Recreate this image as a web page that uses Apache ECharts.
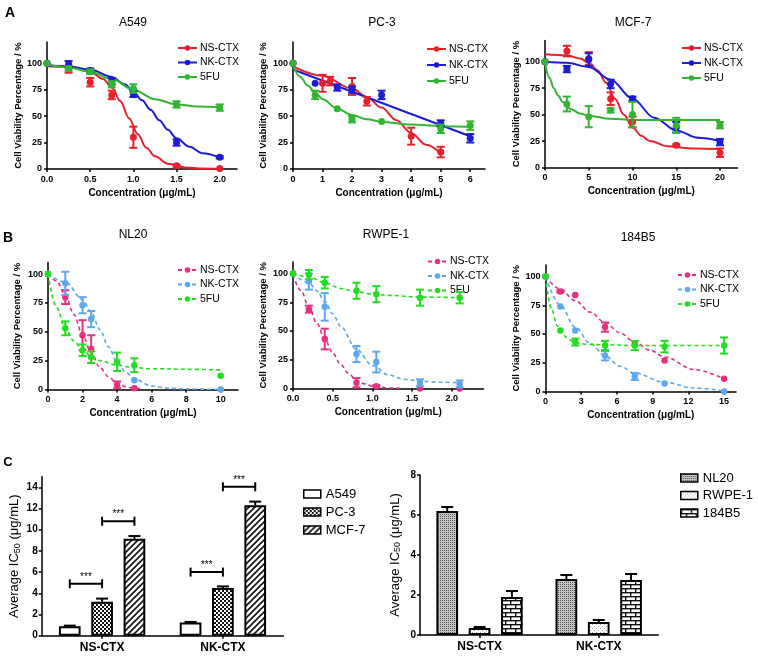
<!DOCTYPE html>
<html><head><meta charset="utf-8">
<script src="https://cdn.jsdelivr.net/npm/echarts@6/dist/echarts.min.js"></script>
<style>html,body{margin:0;padding:0;background:#fff}#c{width:758px;height:661px}</style>
</head><body><div id="c"></div>
<script>
const FONT = '"Liberation Sans", Arial, Helvetica, sans-serif';

// ===== Panel A: cancer cell lines (points, error, fitted curves) =====
const a549X = [0, 0.25, 0.5, 0.75, 1.0, 1.5, 2.0];
const a549NS = [100, 94, 82, 70, 30, 3, 0.5];
const a549NSErr = [0, 3, 4, 4, 10, 1, 0];
const a549NK = [100, 99, 93, 83, 71, 25, 11];
const a549NKErr = [0, 3, 2, 3, 3, 3, 1];
const a549FU = [100, 95, 92, 80, 76, 61, 58];
const a549FUErr = [0, 2, 2, 3, 4, 3, 3];
const a549NSFitX = [0, 0.25, 0.5, 0.65, 0.75, 0.85, 0.95, 1.05, 1.15, 1.25, 1.4, 1.6, 1.8, 2.0];
const a549NSFitY = [97, 96.5, 92, 85, 77, 64, 48, 33, 20, 12, 5, 1.5, 0.5, 0.2];
const a549NKFitX = [0, 0.25, 0.5, 0.75, 0.9, 1.0, 1.1, 1.2, 1.3, 1.4, 1.5, 1.65, 1.8, 2.0];
const a549NKFitY = [98, 97, 94, 87, 80, 73, 65, 56, 46, 37, 29, 21, 15, 11];
const a549FUFitX = [0, 0.25, 0.5, 0.75, 1.0, 1.25, 1.5, 1.75, 2.0];
const a549FUFitY = [99, 96, 92, 85, 75, 66, 61, 59, 58];

const pc3NSX = [0, 1, 1.25, 2, 2.5, 4, 5];
const pc3NS = [100, 81, 83, 78, 64, 31, 16];
const pc3NSErr = [0, 8, 4, 8, 4, 8, 5];
const pc3NKX = [0, 0.75, 1.5, 2, 3, 5, 6];
const pc3NK = [100, 81, 77, 75, 70, 43, 29];
const pc3NKErr = [0, 0, 3, 3, 4, 3, 4];
const pc3FUX = [0, 0.75, 1.5, 2, 3, 5, 6];
const pc3FU = [100, 70, 57, 47, 45, 38, 41];
const pc3FUErr = [0, 4, 0, 3, 0, 4, 4];
const pc3NSFitX = [0, 1, 2, 2.5, 3, 3.5, 4, 4.5, 5];
const pc3NSFitY = [97, 88, 76, 68, 58, 46, 34, 23, 15];
const pc3NKFitX = [0, 6];
const pc3NKFitY = [94, 31];
const pc3FUFitX = [0, 0.25, 0.5, 0.75, 1, 1.5, 2, 2.5, 3, 4, 5, 6];
const pc3FUFitY = [98, 87, 79, 72, 66, 57, 51, 47, 44.5, 42, 40.5, 40];

const mcf7X = [0, 2.5, 5, 7.5, 10, 15, 20];
const mcf7NS = [100, 110, 103, 65, 43, 21, 14];
const mcf7NSErr = [0, 5, 6, 6, 5, 1, 4];
const mcf7NK = [100, 93, 102, 79, 65, 38, 24];
const mcf7NKErr = [0, 3, 6, 4, 2, 5, 3];
const mcf7FU = [100, 60, 48, 54, 50, 40, 40];
const mcf7FUErr = [0, 7, 10, 2, 12, 7, 3];
const mcf7NSFitX = [0, 2.5, 4, 5, 6, 7, 8, 9, 10, 11, 12, 14, 17, 20];
const mcf7NSFitY = [107, 106, 103, 99, 92, 80, 65, 50, 38, 30, 25, 20, 18, 17.5];
const mcf7NKFitX = [0, 2.5, 5, 7.5, 10, 12.5, 15, 17.5, 20];
const mcf7NKFitY = [100, 99, 95, 83, 65, 47, 35, 28, 25];
const mcf7FUFitX = [0, 0.5, 1, 1.5, 2, 3, 4, 5, 7.5, 10, 15, 20];
const mcf7FUFitY = [99, 85, 75, 68, 62, 55, 51, 49, 46, 45, 45, 45];

// ===== Panel B: normal cell lines =====
const nl20NSX = [0, 1, 2, 2.5, 4, 5];
const nl20NS = [100, 80, 47, 35, 4, 1];
const nl20NSErr = [0, 6, 13, 12, 3, 0];
const nl20NKX = [0, 1, 2, 2.5, 5, 10];
const nl20NK = [100, 92, 73, 61, 8, 0];
const nl20NKErr = [0, 10, 7, 7, 0, 0];
const nl20FUX = [0, 1, 2, 2.5, 4, 5, 10];
const nl20FU = [100, 53, 34, 28, 24, 21, 12];
const nl20FUErr = [0, 6, 5, 5, 8, 6, 0];
const nl20NSFitX = [0, 0.5, 1, 1.5, 2, 2.5, 3, 3.5, 4, 4.5, 5, 5.5];
const nl20NSFitY = [100, 94, 82, 65, 47, 32, 19, 11, 5, 2.5, 1, 0.5];
const nl20NKFitX = [0, 1, 2, 2.5, 3, 3.5, 4, 4.5, 5, 6, 7, 8, 10];
const nl20NKFitY = [100, 93, 78, 67, 52, 37, 24, 15, 9, 3, 1, 0.5, 0];
const nl20FUFitX = [0, 0.5, 1, 1.5, 2, 2.5, 3, 4, 5, 6, 8, 10];
const nl20FUFitY = [100, 71, 53, 42, 34, 29, 25, 21, 19, 18, 17.5, 17];

const rwpeX = [0, 0.2, 0.4, 0.8, 1.05, 1.6, 2.1];
const rwpeNS = [100, 69, 43, 5, 2, 0, 0];
const rwpeNSErr = [0, 3, 9, 4, 1, 0, 0];
const rwpeNK = [100, 93, 71, 30, 23, 5, 4];
const rwpeNKErr = [0, 7, 12, 7, 9, 3, 3];
const rwpeFU = [100, 99, 92, 85, 82, 79, 79];
const rwpeFUErr = [0, 4, 5, 7, 7, 7, 5];
const rwpeNSFitX = [0, 0.1, 0.2, 0.3, 0.4, 0.5, 0.6, 0.7, 0.8, 0.9, 1.0, 1.2, 1.4];
const rwpeNSFitY = [99, 85, 71, 57, 43, 31, 21, 13, 7, 4, 2, 0.5, 0];
const rwpeNKFitX = [0, 0.2, 0.3, 0.4, 0.5, 0.6, 0.8, 1.0, 1.2, 1.4, 1.6, 1.8, 2.1];
const rwpeNKFitY = [100, 92, 85, 76, 65, 54, 34, 20, 12, 8, 6.5, 5.5, 5];
const rwpeFUFitX = [0, 0.2, 0.4, 0.6, 0.8, 1.0, 1.2, 1.6, 2.1];
const rwpeFUFitY = [100, 97, 92, 87, 84, 82, 81, 79.5, 79];

const b184X = [0, 1.25, 2.5, 5, 7.5, 10, 15];
const b184NS = [100, 87, 84, 56, 41, 27, 11];
const b184NSErr = [0, 1, 0, 4, 0, 0, 0];
const b184NK = [100, 74, 53, 31, 13, 7, 0];
const b184NKErr = [0, 0, 0, 4, 3, 0, 0];
const b184FU = [100, 53, 43, 40, 40, 39, 40];
const b184FUErr = [0, 0, 3, 4, 4, 5, 7];
const b184NSFitX = [0, 1.25, 2.5, 3.75, 5, 6.25, 7.5, 8.75, 10, 12.5, 15];
const b184NSFitY = [100, 89, 79, 69, 60, 51, 43, 36, 30, 19, 11];
const b184NKFitX = [0, 1.25, 2.5, 3.75, 5, 6.25, 7.5, 10, 12.5, 15];
const b184NKFitY = [100, 75, 56, 42, 31, 22, 16, 8, 3, 0.5];
const b184FUFitX = [0, 0.5, 1, 1.5, 2, 2.5, 3.5, 5, 7.5, 10, 15];
const b184FUFitY = [100, 72, 57, 49, 45, 42.5, 41, 40.5, 40, 40, 40];

// ===== Tick labels =====
const viabilityTicks = [0, 25, 50, 75, 100];
const a549XTicks = [0, 0.5, 1.0, 1.5, 2.0];
const pc3XTicks = [0, 1, 2, 3, 4, 5, 6];
const mcf7XTicks = [0, 5, 10, 15, 20];
const nl20XTicks = [0, 2, 4, 6, 8, 10];
const rwpeXTicks = [0, 0.5, 1.0, 1.5, 2.0];
const b184XTicks = [0, 3, 6, 9, 12, 15];

// ===== Panel C: IC50 bars =====
const barCats = ['NS-CTX', 'NK-CTX'];
const icA549 = [0.9, 1.25];   const icA549Err = [0.05, 0.05];
const icPC3 = [3.2, 4.5];     const icPC3Err = [0.3, 0.15];
const icMCF7 = [9.15, 12.3];  const icMCF7Err = [0.25, 0.35];
const icNL20 = [6.2, 2.8];    const icNL20Err = [0.2, 0.2];
const icRWPE = [0.35, 0.65];  const icRWPEErr = [0.05, 0.1];
const ic184B5 = [1.9, 2.75];  const ic184B5Err = [0.3, 0.3];
const ic50CancerTicks = [0, 2, 4, 6, 8, 10, 12, 14];
const ic50NormalTicks = [0, 2, 4, 6, 8];
// significance: [category, fromBar, toBar, bracket height]
const sigCancer = [[0, 0, 1, 4.9], [0, 1, 2, 10.8], [1, 0, 1, 6.0], [1, 1, 2, 14.05]];

// ===== Chart building =====
const option = {
  animation: false, backgroundColor: '#ffffff',
  textStyle: { fontFamily: FONT },
  grid: [], xAxis: [], yAxis: [], series: [], legend: [], graphic: []
};
const zip = (a, b) => a.map((v, i) => [v, b[i]]);

function errRender(capHalf, lw) {
  return function (params, api) {
    const x = api.value(0), lo = api.value(1), hi = api.value(2);
    const a = api.coord([x, hi]), b = api.coord([x, lo]);
    const st = { stroke: api.visual('color'), lineWidth: lw };
    return { type: 'group', children: [
      { type: 'line', shape: { x1: a[0], y1: a[1], x2: b[0], y2: b[1] }, style: st },
      { type: 'line', shape: { x1: a[0] - capHalf, y1: a[1], x2: a[0] + capHalf, y2: a[1] }, style: st },
      { type: 'line', shape: { x1: b[0] - capHalf, y1: b[1], x2: b[0] + capHalf, y2: b[1] }, style: st }
    ]};
  };
}

function addText(x, y, text, size, weight) {
  option.graphic.push({ type: 'text', x: x, y: y, z: 10,
    style: { text: text, fontSize: size, fontWeight: weight || 'normal', fontFamily: FONT,
      fill: '#000', align: 'center', verticalAlign: 'middle' } });
}

const axisBlack = { color: '#000', width: 1.5 };

function addLinePanel(p) {
  const gi = option.grid.length;
  option.grid.push({ left: p.left, top: p.top, width: p.width, height: p.height });
  option.xAxis.push({
    type: 'value', gridIndex: gi, min: 0, max: p.xMax,
    axisLine: { onZero: false, lineStyle: axisBlack },
    axisTick: { length: 3, lineStyle: axisBlack, customValues: p.xTicks },
    axisLabel: { customValues: p.xTicks, formatter: v => v.toFixed(p.dec), fontSize: 9,
      fontWeight: 'bold', color: '#000', margin: 6, fontFamily: FONT },
    splitLine: { show: false },
    name: 'Concentration (μg/mL)', nameLocation: 'middle', nameGap: 19,
    nameTextStyle: { fontSize: 10, fontWeight: 'bold', color: '#000', fontFamily: FONT }
  });
  option.yAxis.push({
    type: 'value', gridIndex: gi, min: 0, max: p.yMax,
    axisLine: { show: true, lineStyle: axisBlack },
    axisTick: { show: true, length: 3, lineStyle: axisBlack, customValues: viabilityTicks },
    axisLabel: { customValues: viabilityTicks, fontSize: 9, fontWeight: 'bold', color: '#000', margin: 5, fontFamily: FONT },
    splitLine: { show: false },
    name: 'Cell Viability Percentage / %', nameLocation: 'middle', nameGap: p.nameGap,
    nameTextStyle: { fontSize: 9.5, fontWeight: 'bold', color: '#000', fontFamily: FONT }
  });
  const legendNames = [];
  p.series.forEach((s, k) => {
    const nm = s.name + '|' + p.key;
    legendNames.push(nm);
    option.series.push({
      type: 'line', name: nm, xAxisIndex: gi, yAxisIndex: gi,
      data: zip(s.fitX, s.fitY), smooth: 0.35, smoothMonotone: 'x',
      showSymbol: false, symbol: 'circle', silent: true,
      lineStyle: { color: s.color, width: p.lw, type: p.dashed ? [4, 3] : 'solid' },
      itemStyle: { color: s.color }, z: 2 + k
    });
    option.series.push({
      type: 'scatter', name: nm + '|pts', xAxisIndex: gi, yAxisIndex: gi,
      data: zip(s.x, s.y), symbol: 'circle', symbolSize: p.sym, silent: true,
      itemStyle: { color: s.color, opacity: 1 }, z: 5 + k
    });
    const errData = s.x.map((x, i) => [x, s.y[i] - s.err[i], s.y[i] + s.err[i]]).filter((d, i) => s.err[i] > 0);
    option.series.push({
      type: 'custom', name: nm + '|err', xAxisIndex: gi, yAxisIndex: gi,
      data: errData, encode: { x: 0, y: [1, 2] }, renderItem: errRender(p.cap, 2), silent: true,
      itemStyle: { color: s.color }, z: 5 + k
    });
  });
  option.legend.push({
    data: legendNames, orient: 'vertical', left: p.legLeft, top: p.legTop, itemGap: p.legGap,
    itemWidth: 19, itemHeight: 7, selectedMode: false, formatter: n => n.split('|')[0],
    textStyle: { fontSize: 10.5, color: '#000', fontFamily: FONT, padding: [0, 0, 0, -2] }
  });
  addText(p.titleX, p.titleY, p.title, 12, 'normal');
}

const RED = '#e8202a', BLUE = '#1c1cd6', GREEN = '#33b533';
const PINK = '#e8307f', LBLUE = '#5ea8ee', LGREEN = '#22dd22';

addLinePanel({ key: 'A549', left: 47, top: 42, width: 190, height: 127, xMax: 2.2, yMax: 120, xTicks: a549XTicks, dec: 1,
  nameGap: 24, lw: 2, sym: 7, cap: 4, dashed: false, title: 'A549', titleX: 133, titleY: 23,
  legLeft: 172, legTop: 37.5, legGap: 3.5,
  series: [
    { name: 'NS-CTX', color: RED, x: a549X, y: a549NS, err: a549NSErr, fitX: a549NSFitX, fitY: a549NSFitY },
    { name: 'NK-CTX', color: BLUE, x: a549X, y: a549NK, err: a549NKErr, fitX: a549NKFitX, fitY: a549NKFitY },
    { name: '5FU', color: GREEN, x: a549X, y: a549FU, err: a549FUErr, fitX: a549FUFitX, fitY: a549FUFitY }
  ] });
addLinePanel({ key: 'PC3', left: 293, top: 42, width: 192, height: 127, xMax: 6.5, yMax: 120, xTicks: pc3XTicks, dec: 0,
  nameGap: 25, lw: 2, sym: 7, cap: 4, dashed: false, title: 'PC-3', titleX: 382, titleY: 23,
  legLeft: 421, legTop: 38.5, legGap: 5,
  series: [
    { name: 'NS-CTX', color: RED, x: pc3NSX, y: pc3NS, err: pc3NSErr, fitX: pc3NSFitX, fitY: pc3NSFitY },
    { name: 'NK-CTX', color: BLUE, x: pc3NKX, y: pc3NK, err: pc3NKErr, fitX: pc3NKFitX, fitY: pc3NKFitY },
    { name: '5FU', color: GREEN, x: pc3FUX, y: pc3FU, err: pc3FUErr, fitX: pc3FUFitX, fitY: pc3FUFitY }
  ] });
addLinePanel({ key: 'MCF7', left: 545, top: 40.5, width: 192.5, height: 127, xMax: 22, yMax: 120, xTicks: mcf7XTicks, dec: 0,
  nameGap: 23, lw: 2, sym: 7, cap: 4, dashed: false, title: 'MCF-7', titleX: 633, titleY: 23,
  legLeft: 676, legTop: 37.5, legGap: 4,
  series: [
    { name: 'NS-CTX', color: RED, x: mcf7X, y: mcf7NS, err: mcf7NSErr, fitX: mcf7NSFitX, fitY: mcf7NSFitY },
    { name: 'NK-CTX', color: BLUE, x: mcf7X, y: mcf7NK, err: mcf7NKErr, fitX: mcf7NKFitX, fitY: mcf7NKFitY },
    { name: '5FU', color: GREEN, x: mcf7X, y: mcf7FU, err: mcf7FUErr, fitX: mcf7FUFitX, fitY: mcf7FUFitY }
  ] });
addLinePanel({ key: 'NL20', left: 48, top: 262.5, width: 190, height: 127, xMax: 11, yMax: 110, xTicks: nl20XTicks, dec: 0,
  nameGap: 26, lw: 1.6, sym: 6.5, cap: 4, dashed: true, title: 'NL20', titleX: 133, titleY: 235,
  legLeft: 172, legTop: 259.5, legGap: 3.5,
  series: [
    { name: 'NS-CTX', color: PINK, x: nl20NSX, y: nl20NS, err: nl20NSErr, fitX: nl20NSFitX, fitY: nl20NSFitY },
    { name: 'NK-CTX', color: LBLUE, x: nl20NKX, y: nl20NK, err: nl20NKErr, fitX: nl20NKFitX, fitY: nl20NKFitY },
    { name: '5FU', color: LGREEN, x: nl20FUX, y: nl20FU, err: nl20FUErr, fitX: nl20FUFitX, fitY: nl20FUFitY }
  ] });
addLinePanel({ key: 'RWPE1', left: 293, top: 262, width: 190.5, height: 126.5, xMax: 2.4, yMax: 110, xTicks: rwpeXTicks, dec: 1,
  nameGap: 25, lw: 1.6, sym: 6.5, cap: 4, dashed: true, title: 'RWPE-1', titleX: 386, titleY: 235,
  legLeft: 422, legTop: 251, legGap: 3.5,
  series: [
    { name: 'NS-CTX', color: PINK, x: rwpeX, y: rwpeNS, err: rwpeNSErr, fitX: rwpeNSFitX, fitY: rwpeNSFitY },
    { name: 'NK-CTX', color: LBLUE, x: rwpeX, y: rwpeNK, err: rwpeNKErr, fitX: rwpeNKFitX, fitY: rwpeNKFitY },
    { name: '5FU', color: LGREEN, x: rwpeX, y: rwpeFU, err: rwpeFUErr, fitX: rwpeFUFitX, fitY: rwpeFUFitY }
  ] });
addLinePanel({ key: '184B5', left: 545.5, top: 265, width: 190.5, height: 126.5, xMax: 16, yMax: 110, xTicks: b184XTicks, dec: 0,
  nameGap: 24, lw: 1.6, sym: 6.5, cap: 4, dashed: true, title: '184B5', titleX: 638, titleY: 238,
  legLeft: 672, legTop: 264.5, legGap: 3.5,
  series: [
    { name: 'NS-CTX', color: PINK, x: b184X, y: b184NS, err: b184NSErr, fitX: b184NSFitX, fitY: b184NSFitY },
    { name: 'NK-CTX', color: LBLUE, x: b184X, y: b184NK, err: b184NKErr, fitX: b184NKFitX, fitY: b184NKFitY },
    { name: '5FU', color: LGREEN, x: b184X, y: b184FU, err: b184FUErr, fitX: b184FUFitX, fitY: b184FUFitY }
  ] });

// ===== Patterns for bars =====
function makePattern(w, h, bg, draw) {
  const c = document.createElement('canvas'); c.width = w; c.height = h;
  const ctx = c.getContext('2d'); ctx.fillStyle = bg; ctx.fillRect(0, 0, w, h); draw(ctx);
  return { image: c, repeat: 'repeat' };
}
const patPlain = '#ffffff';
const patChecker = makePattern(4, 4, '#fff', ctx => { ctx.fillStyle = '#111'; ctx.fillRect(0, 0, 2, 2); ctx.fillRect(2, 2, 2, 2); });
const patDiag = makePattern(6, 6, '#fff', ctx => {
  ctx.strokeStyle = '#111'; ctx.lineWidth = 1.6; ctx.beginPath();
  ctx.moveTo(-1, 7); ctx.lineTo(7, -1); ctx.moveTo(-1, 1); ctx.lineTo(1, -1); ctx.moveTo(5, 7); ctx.lineTo(7, 5); ctx.stroke();
});
const patGrey = makePattern(4, 4, '#c4c4c4', ctx => { ctx.fillStyle = '#555'; ctx.fillRect(0, 0, 1, 1); ctx.fillRect(2, 2, 1, 1); ctx.fillRect(2, 0, 1, 1); ctx.fillRect(0, 2, 1, 1); });
const patDots = makePattern(4, 4, '#fff', ctx => { ctx.fillStyle = '#9a9a9a'; ctx.fillRect(0, 0, 1, 1); ctx.fillRect(2, 2, 1, 1); });
const patBrick = makePattern(10, 8, '#fff', ctx => {
  ctx.fillStyle = '#111'; ctx.fillRect(0, 0, 10, 1.4); ctx.fillRect(0, 4, 10, 1.4);
  ctx.fillRect(0, 0, 1.4, 4); ctx.fillRect(5, 4, 1.4, 4);
});

const BAR_W = 21.7, BAR_GAP = 0.49, BAR_STEP = BAR_W * (1 + BAR_GAP);

function barErrRender(params, api) {
  const cat = api.value(0), bi = api.value(1), v = api.value(2), hi = api.value(3);
  const a = api.coord([cat, v]), b = api.coord([cat, hi]);
  const x = a[0] + (bi - 1) * BAR_STEP;
  const st = { stroke: '#000', lineWidth: 2 };
  return { type: 'group', children: [
    { type: 'line', shape: { x1: x, y1: a[1], x2: x, y2: b[1] }, style: st },
    { type: 'line', shape: { x1: x - 6, y1: b[1], x2: x + 6, y2: b[1] }, style: st }
  ]};
}
function sigRender(params, api) {
  const cat = api.value(0), from = api.value(1), to = api.value(2), y = api.value(3);
  const a = api.coord([cat, y]);
  const x1 = a[0] + (from - 1) * BAR_STEP, x2 = a[0] + (to - 1) * BAR_STEP;
  const st = { stroke: '#000', lineWidth: 2 };
  return { type: 'group', children: [
    { type: 'line', shape: { x1: x1, y1: a[1], x2: x2, y2: a[1] }, style: st },
    { type: 'line', shape: { x1: x1, y1: a[1] - 4.5, x2: x1, y2: a[1] + 4.5 }, style: st },
    { type: 'line', shape: { x1: x2, y1: a[1] - 4.5, x2: x2, y2: a[1] + 4.5 }, style: st },
    { type: 'text', x: (x1 + x2) / 2, y: a[1] - 2, style: { text: '***', fontSize: 10, fontFamily: FONT, fill: '#000', align: 'center', verticalAlign: 'bottom' } }
  ]};
}

function addBarPanel(p) {
  const gi = option.grid.length;
  option.grid.push({ left: p.left, top: p.top, width: p.width, height: p.height });
  option.xAxis.push({
    type: 'category', gridIndex: gi, data: barCats,
    axisLine: { lineStyle: axisBlack },
    axisTick: { show: true, alignWithLabel: true, length: 3, lineStyle: axisBlack },
    axisLabel: { fontSize: 12, fontWeight: 'bold', color: '#000', margin: 6, fontFamily: FONT },
    splitLine: { show: false }
  });
  option.yAxis.push({
    type: 'value', gridIndex: gi, min: 0, max: p.yMax,
    axisLine: { show: true, lineStyle: axisBlack },
    axisTick: { show: true, length: 3, lineStyle: axisBlack, customValues: p.yTicks },
    axisLabel: { customValues: p.yTicks, fontSize: 10, fontWeight: 'bold', color: '#000', margin: 4, fontFamily: FONT },
    splitLine: { show: false },
    name: 'Average IC{s|50} (μg/mL)', nameLocation: 'middle', nameGap: p.nameGap,
    nameTextStyle: { fontSize: 13, color: '#000', fontFamily: FONT,
      rich: { s: { fontSize: 9, color: '#000', fontFamily: FONT, verticalAlign: 'bottom', padding: [5, 0, 0, 0] } } }
  });
  const errData = [];
  p.groups.forEach((g, bi) => {
    option.series.push({
      type: 'bar', name: g.name, xAxisIndex: gi, yAxisIndex: gi, data: g.values,
      barWidth: BAR_W, barGap: (BAR_GAP * 100) + '%', silent: true,
      itemStyle: { color: g.fill, borderColor: '#000', borderWidth: 2 }, z: 2
    });
    g.values.forEach((v, ci) => errData.push([ci, bi, v, v + g.err[ci]]));
  });
  option.series.push({ type: 'custom', name: 'err' + gi, xAxisIndex: gi, yAxisIndex: gi, data: errData,
    encode: { x: 0, y: [2, 3] }, renderItem: barErrRender, silent: true, z: 1 });
  if (p.sig) {
    option.series.push({ type: 'custom', name: 'sig' + gi, xAxisIndex: gi, yAxisIndex: gi, data: p.sig,
      encode: { x: 0, y: 3 }, renderItem: sigRender, silent: true, z: 3 });
  }
  option.legend.push({
    data: p.groups.map(g => g.name), orient: 'vertical', left: p.legLeft, top: p.legTop, itemGap: p.legGap,
    icon: 'rect', itemWidth: 17, itemHeight: 8, selectedMode: false,
    itemStyle: { borderColor: '#000', borderWidth: 1.5 },
    textStyle: { fontSize: 13, color: '#000', fontFamily: FONT }
  });
}

addBarPanel({ left: 41.7, top: 476.7, width: 241.6, height: 159, yMax: 15, yTicks: ic50CancerTicks, nameGap: 20,
  legLeft: 298, legTop: 482.5, legGap: 5, sig: sigCancer,
  groups: [
    { name: 'A549', values: icA549, err: icA549Err, fill: patPlain },
    { name: 'PC-3', values: icPC3, err: icPC3Err, fill: patChecker },
    { name: 'MCF-7', values: icMCF7, err: icMCF7Err, fill: patDiag }
  ] });
addBarPanel({ left: 420, top: 475, width: 238.3, height: 160, yMax: 8, yTicks: ic50NormalTicks, nameGap: 18,
  legLeft: 675, legTop: 466.5, legGap: 4.5, sig: null,
  groups: [
    { name: 'NL20', values: icNL20, err: icNL20Err, fill: patGrey },
    { name: 'RWPE-1', values: icRWPE, err: icRWPEErr, fill: patDots },
    { name: '184B5', values: ic184B5, err: ic184B5Err, fill: patBrick }
  ] });

addText(10, 13, 'A', 14, 'bold');
addText(8, 238, 'B', 14, 'bold');
addText(8, 462, 'C', 13, 'bold');

const chart = echarts.init(document.getElementById('c'), null, { renderer: 'canvas' });
chart.setOption(option);
</script></body></html>
